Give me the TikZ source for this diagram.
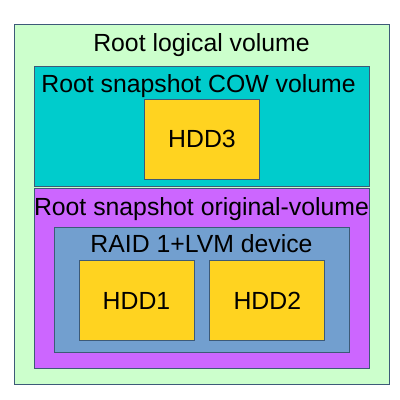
\documentclass[tikz,border=0pt]{standalone}
\usepackage{fontspec}
\setmainfont{Liberation Sans}
\usetikzlibrary{positioning}

\definecolor{edgeblue}{HTML}{3D5A78}
\definecolor{lvgreen}{HTML}{CCFFCC}
\definecolor{cowteal}{HTML}{00CCCC}
\definecolor{origpurple}{HTML}{CC66FF}
\definecolor{raidblue}{HTML}{729FCF}
\definecolor{hddyellow}{HTML}{FFD320}
\newcommand{\volfont}{\fontsize{24.8}{28}\selectfont}

\begin{document}
\begin{tikzpicture}[
    x=1pt, y=1pt,
    volume/.style={rectangle, draw=edgeblue, line width=0.8pt, inner sep=0pt},
    disk/.style={volume, fill=hddyellow, minimum width=115pt, minimum height=80pt, font=\volfont},
    caption/.style={inner sep=0pt, text height=18pt, text depth=5pt, font=\volfont}
]
\useasboundingbox (0,0) rectangle (400,400);

% Root logical volume
\node[volume, fill=lvgreen, minimum width=375pt, minimum height=360pt] (root) at (201.5,196) {};
\node[caption, below=10pt of root.north] (rootlabel) {Root logical volume};

% Snapshot COW volume
\node[volume, fill=cowteal, minimum width=335pt, minimum height=120pt] (cow) at (201.5,274) {};
\node[caption, below=8.5pt of cow.north, xshift=-3pt] (cowlabel) {Root snapshot COW volume};
\node[disk] (hdd3) at (202,260.7) {HDD3};

% Snapshot original volume
\node[volume, fill=origpurple, minimum width=335pt, minimum height=180pt] (orig) at (201.5,122) {};
\node[caption, below=9.5pt of orig.north] (origlabel) {Root snapshot original-volume};

% RAID device
\node[volume, fill=raidblue, minimum width=295pt, minimum height=125pt] (raid) at (201.5,110.5) {};
\node[caption, below=7.5pt of raid.north] (raidlabel) {RAID 1+LVM device};
\node[disk] (hdd1) at (136.5,99.5) {HDD1};
\node[disk, right=15pt of hdd1] (hdd2) {HDD2};

\end{tikzpicture}
\end{document}
